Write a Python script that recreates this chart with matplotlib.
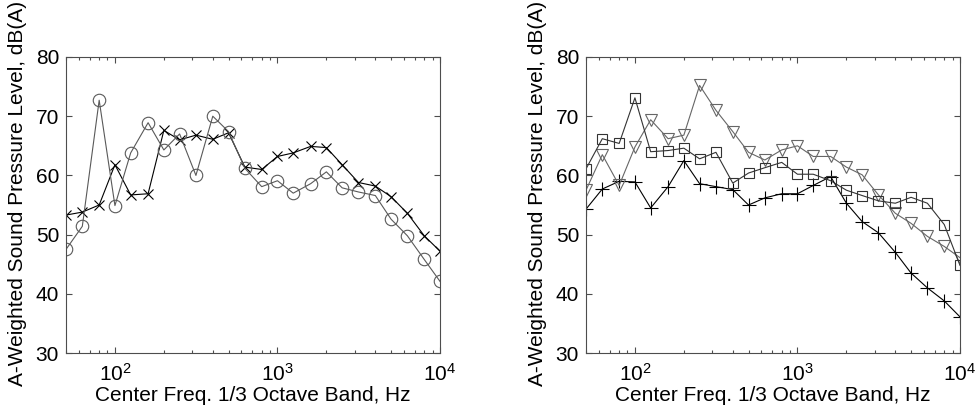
import matplotlib
matplotlib.use("Agg")
import matplotlib.pyplot as plt
from matplotlib.ticker import LogLocator, NullFormatter
import numpy as np

plt.rcParams['font.family'] = ['Liberation Sans', 'DejaVu Sans']
plt.rcParams['mathtext.fontset'] = 'custom'
plt.rcParams['mathtext.rm'] = 'Liberation Sans'
plt.rcParams['mathtext.it'] = 'Liberation Sans:italic'

# 1/3 octave band centre frequencies, Hz
freq = [50, 63, 80, 100, 125, 160, 200, 250, 315, 400, 500, 630,
        800, 1000, 1250, 1600, 2000, 2500, 3150, 4000, 5000, 6300, 8000, 10000]

# left panel
circ = [47.5, 51.4, 72.7, 54.9, 63.8, 68.9, 64.3, 67.0, 60.0, 70.0, 67.4, 61.2,
        58.1, 59.1, 57.0, 58.6, 60.6, 57.9, 57.2, 56.6, 52.6, 49.8, 45.8, 42.1]
cross = [53.3, 53.8, 55.0, 61.8, 56.7, 56.9, 67.6, 66.0, 66.8, 66.1, 67.2, 61.4,
         61.0, 63.2, 63.8, 64.9, 64.7, 61.8, 58.8, 58.2, 56.4, 53.6, 49.8, 47.2]

# right panel
square = [61.1, 66.2, 65.4, 73.1, 64.0, 64.2, 64.6, 62.8, 63.9, 58.7, 60.4, 61.3,
          62.2, 60.2, 60.2, 59.1, 57.5, 56.6, 55.7, 55.3, 56.3, 55.3, 51.7, 44.8]
tri = [57.5, 63.5, 58.3, 64.8, 69.4, 66.2, 66.8, 75.2, 71.0, 67.4, 63.9, 62.6,
       64.3, 65.0, 63.2, 63.2, 61.4, 60.1, 56.7, 53.6, 51.9, 49.7, 48.0, 46.1]
plus = [54.3, 57.7, 59.0, 58.9, 54.5, 58.1, 62.5, 58.6, 58.1, 57.6, 55.0, 56.2,
        56.9, 56.9, 58.3, 59.8, 55.3, 52.2, 50.3, 47.0, 43.5, 41.0, 38.8, 36.1]

xlab = "Center Freq. 1/3 Octave Band, Hz"
ylab = "A-Weighted Sound Pressure Level, dB(A)"


def style(ax):
    ax.set_xscale('log')
    ax.set_xlim(50, 10000)
    ax.set_ylim(30, 80)
    ax.set_yticks([30, 40, 50, 60, 70, 80])
    ax.xaxis.set_major_locator(LogLocator(base=10, numticks=10))
    ax.xaxis.set_minor_locator(LogLocator(base=10, subs=np.arange(2, 10), numticks=10))
    ax.xaxis.set_minor_formatter(NullFormatter())
    ax.tick_params(which='both', direction='in', top=True, right=True,
                   labelsize=15, width=0.8, color='0.3')
    ax.tick_params(which='major', length=4)
    ax.tick_params(axis='x', which='major', pad=7)
    ax.tick_params(axis='y', which='major', pad=5)
    ax.tick_params(which='minor', length=2)
    for s in ax.spines.values():
        s.set_color('0.3')
        s.set_linewidth(0.8)
    ax.set_xlabel(xlab, fontsize=15, labelpad=1)
    ax.set_ylabel(ylab, fontsize=15)
    ax.yaxis.set_label_coords(-0.105, 0.54)


fig = plt.figure(figsize=(9.75, 4.15), dpi=100)
ax1 = fig.add_axes([66/975, 62/415, 374/975, 296/415])
ax2 = fig.add_axes([586/975, 62/415, 374/975, 296/415])

ax1.plot(freq, cross, color='black', lw=0.8, marker='x', ms=7, mew=0.8, mec='black')
ax1.plot(freq, circ, color='0.35', lw=0.8, marker='o', ms=9, mfc='none', mew=0.8, mec='0.35')
style(ax1)

ax2.plot(freq, plus, color='black', lw=0.8, marker='+', ms=10, mew=0.8, mec='black')
ax2.plot(freq, tri, color='0.4', lw=0.8, marker='v', ms=9, mfc='none', mew=0.8, mec='0.4')
ax2.plot(freq, square, color='0.2', lw=0.8, marker='s', ms=7.5, mfc='none', mew=0.8, mec='0.2')
style(ax2)

fig.savefig("out.png", dpi=100)
